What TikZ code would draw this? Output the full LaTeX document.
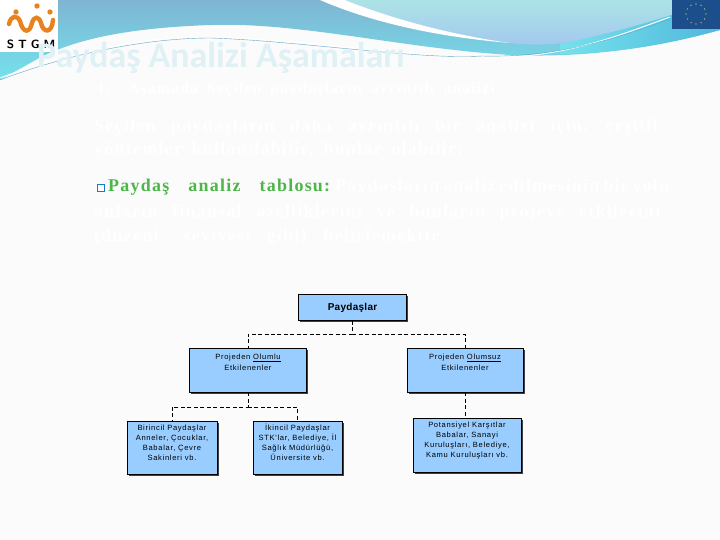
\documentclass[tikz,border=0pt]{standalone}
\usepackage{fontspec}
\usetikzlibrary{calc,shadows}
\setmainfont{Liberation Serif}
\newfontfamily\titlefont{Carlito}
\newfontfamily\govdefont[LetterSpace=7]{Liberation Serif}
\newfontfamily\boxfont[LetterSpace=9]{Liberation Sans}
\newfontfamily\ustfont[LetterSpace=3]{Liberation Sans}
\definecolor{sayfa}{HTML}{FBFBFB}
\definecolor{kutu}{HTML}{99CCFF}
\definecolor{yesil}{HTML}{4DB64A}
\definecolor{baslik}{HTML}{E0F1F6}
\definecolor{turuncu}{HTML}{E8821E}
\definecolor{abmavi}{HTML}{1C4E8C}
\definecolor{dalga1}{HTML}{7FB5D2}
\definecolor{dalga2}{HTML}{74E2EC}
\definecolor{dalga3}{HTML}{ACE3E6}
\definecolor{dalga4}{HTML}{A2C6F0}
\definecolor{dalga5}{HTML}{50B8DC}
\newcommand{\satir}[2]{\makebox[#1][s]{#2}}
\tikzset{
	kutucuk/.style={rectangle, draw=black, line width=0.7pt, fill=kutu, align=center, font=\boxfont\fontsize{7.6}{10}\selectfont, inner sep=0pt, drop shadow={shadow xshift=1.6pt, shadow yshift=-1.6pt, fill=black!75, opacity=1}},
	baglanti/.style={draw=black, line width=0.9pt, dash pattern=on 4pt off 2.5pt},
	yazi/.style={anchor=west, inner sep=0pt, font=\govdefont\fontsize{18}{20}\selectfont\bfseries, text=white}
}

\begin{document}
\begin{tikzpicture}[x=1bp,y=-1bp]
	\useasboundingbox (0,0) rectangle (720,540);
	\fill[sayfa] (0,0) rectangle (720,540);

	% ust dalga
	\shade[top color=dalga1, bottom color=dalga2] (0,0) -- (720,0) -- (720,30) .. controls (650,48) and (590,58) .. (510,55) .. controls (400,48) and (300,22) .. (210,25) .. controls (130,28) and (80,38) .. (41,57) -- (0,80) -- cycle;
	\shade[top color=dalga3, bottom color=dalga4] (345,0) .. controls (400,22) and (460,36) .. (510,43) .. controls (570,50) and (620,32) .. (672,15) -- (720,0) -- cycle;
	\fill[white] (320,0) .. controls (380,26) and (450,38) .. (510,43) .. controls (460,36) and (400,22) .. (345,0) -- cycle;
	\shade[left color=dalga2, right color=dalga5] (560,44) .. controls (600,36) and (640,25) .. (672,15) -- (720,10) -- (720,30) .. controls (670,44) and (620,53) .. (560,54) -- cycle;
	\draw[white, line width=1pt] (0,78) .. controls (60,55) and (140,36) .. (211,37) .. controls (300,39) and (420,58) .. (482,57) .. controls (560,60) and (620,35) .. (670,17);
	\draw[cyan!50!gray, line width=0.4pt] (0,80) .. controls (60,57) and (140,38) .. (211,38) .. controls (300,41) and (420,60) .. (482,56) .. controls (560,58) and (620,37) .. (670,19);

	% logolar
	\fill[white] (0,0) rectangle (58,52);
	\draw[turuncu, line width=4.4pt, line cap=round] (9,24) .. controls (11,15) and (17,15) .. (20,21) .. controls (23,34) and (30,33) .. (32,23) .. controls (34,16) and (39,16) .. (41,23) .. controls (43,33) and (52,34) .. (53,20);
	\fill[turuncu] (16,12) circle (2.7) (37,6) circle (2.7) (50,12) circle (2.7);
	\node[inner sep=0pt, font=\sffamily\bfseries\fontsize{12}{12}\selectfont] (stgm) at (31,44) {S\,\,T\,\,G\,\,M};
	\fill[abmavi] (672,0) rectangle (720,29);
	\foreach \a in {0,30,...,330}
		\fill[yellow!70!white] ($(696,14)+(\a:10)$) circle (0.6);

	% yazilar
	\node[anchor=west, inner sep=0pt, text=baslik, font=\titlefont\bfseries\fontsize{36}{40}\selectfont] (baslik) at (37,58) {Paydaş Analizi Aşamaları};
	\node[yazi, font=\govdefont\fontsize{16}{20}\selectfont\bfseries] (satir1) at (97,90) {\satir{403bp}{1. Aşamada Seçilen paydaşların ayrıntılı analizi.}};
	\node[yazi] (satir2) at (94,127) {\satir{563bp}{Seçilen paydaşların daha ayrıntılı bir analizi için, çeşitli}};
	\node[yazi] (satir3) at (94,150) {\satir{369bp}{yöntemler kullanılabilir, bunlar olabilir:}};
	\node[draw=cyan!60!blue, line width=1pt, fill=white, minimum size=7bp, inner sep=0pt] (imge) at (101,188) {};
	\node[yazi, text=yesil] (tablo) at (108,187) {\satir{222bp}{Paydaş analiz tablosu:}};
	\node[yazi] (satir4) at (335,187) {\satir{330bp}{Paydaşların analiz edilmesinin bir yolu}};
	\node[yazi] (satir5) at (94,213) {\satir{566bp}{onların finansal özelliklerini ve bunların projeye etkilerini}};
	\node[yazi] (satir6) at (94,237) {\satir{349bp}{(düzeni, seviyesi gibi) belirlemektir.}};

	% sema
	\node[kutucuk, minimum width=108bp, minimum height=26bp, font=\ustfont\bfseries\fontsize{10}{12}\selectfont] (paydaslar) at (352.5,307.5) {Paydaşlar};
	\node[kutucuk, minimum width=117bp, minimum height=44bp] (olumlu) at (248,370) {Projeden \underline{Olumlu}\\[1bp]Etkilenenler\\[5bp]\mbox{}};
	\node[kutucuk, minimum width=116bp, minimum height=44bp] (olumsuz) at (465,370) {Projeden \underline{Olumsuz}\\[1bp]Etkilenenler\\[5bp]\mbox{}};
	\node[kutucuk, minimum width=90bp, minimum height=53bp] (birincil) at (172,447.5) {Birincil Paydaşlar\\Anneler, Çocuklar,\\Babalar, Çevre\\Sakinleri vb.\\\mbox{}};
	\node[kutucuk, minimum width=89bp, minimum height=53bp] (ikincil) at (297.5,447.5) {İkincil Paydaşlar\\STK'lar, Belediye, İl\\Sağlık Müdürlüğü,\\Üniversite vb.\\\mbox{}};
	\node[kutucuk, minimum width=108bp, minimum height=54bp] (potansiyel) at (467,445) {Potansiyel Karşıtlar\\Babalar, Sanayi\\Kuruluşları, Belediye,\\Kamu Kuruluşları vb.\\\mbox{}};

	\coordinate (ayrim1) at (352.5,334);
	\coordinate (ayrim2) at (248,407);
	\draw[baglanti] (paydaslar.south) -- (ayrim1) -| (olumlu.north);
	\draw[baglanti] (ayrim1) -| (olumsuz.north);
	\draw[baglanti] (olumlu.south) -- (ayrim2) -| (birincil.north);
	\draw[baglanti] (ayrim2) -| (ikincil.north);
	\draw[baglanti] (olumsuz.south) -- (olumsuz.south |- potansiyel.north);
\end{tikzpicture}
\end{document}
